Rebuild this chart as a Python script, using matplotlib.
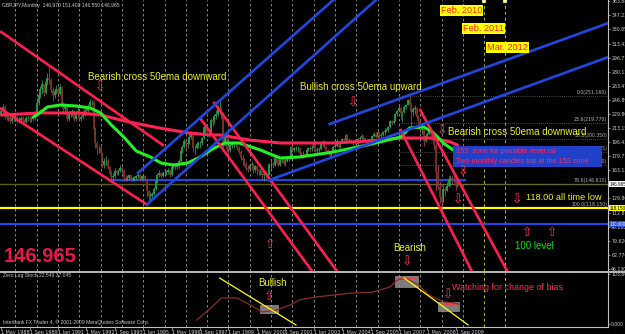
import matplotlib
matplotlib.use("Agg")
import numpy as np
import matplotlib.pyplot as plt
from matplotlib.patches import Rectangle
from matplotlib.lines import Line2D

W, H = 625, 334

# ---- GBPJPY monthly bars (May 1988 .. Nov 2009) ----
FIRST_BAR = "1988-05"
FIRST_OPEN = 230.0
closes = [
    233, 238, 226, 228, 226, 221, 225, 226,                          # 1988
    226, 221, 223, 225, 222, 220, 225, 225, 224, 224, 225, 231,      # 1989
    243, 252, 259, 265, 255, 268, 272, 270, 258, 252, 257, 260,      # 1990
    254, 262, 242, 236, 240, 224, 230, 230, 233, 224, 230, 234,      # 1991
    224, 226, 230, 235, 234, 239, 244, 244, 212, 196, 189, 189,      # 1992
    184, 169, 174, 174, 167, 159, 155, 156, 162, 160, 162, 166,      # 1993
    163, 154, 153, 154, 157, 152, 154, 154, 156, 158, 153, 156,      # 1994
    156, 153, 139, 133, 133, 135, 141, 150, 158, 160, 156, 160,      # 1995
    160, 161, 163, 157, 167, 170, 167, 168, 174, 186, 191, 198,      # 1996
    194, 196, 203, 206, 190, 190, 194, 195, 195, 201, 214, 215,      # 1997
    208, 208, 223, 220, 227, 230, 236, 237, 231, 195, 203, 188,      # 1998
    187, 193, 194, 194, 195, 190, 185, 178, 175, 171, 166, 165,      # 1999
    170, 171, 163, 168, 163, 162, 162, 157, 159, 158, 158, 171,      # 2000
    171, 170, 178, 176, 170, 175, 175, 172, 174, 177, 177, 191,      # 2001
    187, 189, 189, 189, 182, 182, 183, 181, 187, 189, 188, 189,      # 2002
    197, 186, 187, 188, 194, 197, 191, 186, 184, 180, 185, 191,      # 2003
    192, 198, 191, 196, 200, 199, 205, 200, 199, 197, 197, 197,      # 2004
    194, 200, 202, 204, 201, 198, 198, 200, 200, 204, 206, 203,      # 2005
    208, 204, 205, 208, 210, 211, 214, 222, 219, 222, 230, 233,      # 2006
    237, 231, 232, 238, 241, 247, 242, 232, 236, 237, 226, 222,      # 2007
    211, 212, 198, 204, 206, 211, 206, 198, 193, 161, 143, 131,      # 2008
    125, 141, 139, 145, 152, 154, 152, 151, 144, 146.97, 146.965,    # 2009
]
highs = [
    236, 242, 240, 231, 230, 228, 227, 229,
    229, 228, 226, 228, 227, 224, 228, 229, 228, 227, 228, 233,
    246, 256, 263, 270, 266, 271, 278, 285, 272, 262, 260, 264,
    262, 266, 263, 244, 243, 241, 233, 234, 236, 235, 232, 238,
    236, 229, 233, 237, 238, 242, 248, 247, 246, 214, 198, 193,
    192, 185, 178, 180, 176, 168, 162, 160, 166, 164, 165, 169,
    168, 164, 157, 157, 159, 158, 156, 156, 158, 160, 159, 158,
    159, 157, 154, 140, 137, 137, 143, 152, 160, 163, 161, 162,
    163, 164, 166, 164, 168, 172, 171, 170, 176, 188, 193, 200,
    200, 200, 206, 210, 207, 193, 197, 198, 198, 203, 216, 219,
    216, 211, 225, 226, 230, 235, 240, 245, 239, 232, 208, 205,
    191, 196, 198, 197, 198, 197, 192, 187, 181, 178, 173, 169,
    172, 174, 172, 170, 169, 165, 165, 163, 162, 161, 160, 172,
    175, 173, 180, 180, 177, 177, 178, 176, 176, 179, 180, 192,
    193, 191, 192, 192, 190, 185, 186, 184, 189, 191, 192, 193,
    199, 198, 191, 191, 196, 199, 198, 192, 188, 185, 187, 192,
    196, 200, 199, 198, 202, 202, 206, 206, 202, 200, 199, 200,
    198, 201, 204, 206, 205, 202, 200, 202, 202, 205, 209, 208,
    210, 209, 207, 210, 213, 213, 216, 223, 223, 224, 231, 235,
    240, 238, 234, 240, 242, 248, 251, 243, 238, 241, 238, 229,
    224, 215, 213, 206, 208, 215, 213, 207, 201, 195, 170, 150,
    135, 146, 144, 149, 156, 158, 157, 158, 151, 150, 151.4,
]
lows = [
    228, 231, 224, 223, 222, 219, 219, 222,
    222, 219, 219, 221, 218, 216, 219, 221, 220, 220, 221, 223,
    229, 241, 249, 255, 251, 253, 264, 265, 255, 245, 249, 253,
    250, 252, 239, 232, 234, 221, 222, 226, 227, 221, 222, 228,
    221, 221, 224, 228, 230, 232, 238, 240, 205, 190, 183, 184,
    180, 166, 166, 170, 165, 156, 152, 150, 154, 157, 158, 161,
    160, 151, 150, 150, 152, 150, 150, 151, 152, 154, 151, 152,
    152, 151, 131, 123, 128, 130, 134, 140, 148, 155, 154, 155,
    156, 158, 159, 155, 156, 165, 163, 165, 166, 173, 184, 189,
    188, 190, 194, 200, 185, 183, 188, 190, 190, 193, 200, 205,
    203, 203, 206, 216, 218, 224, 228, 230, 224, 190, 192, 185,
    181, 185, 189, 190, 191, 187, 182, 175, 170, 168, 163, 161,
    163, 166, 160, 161, 158, 157, 158, 153, 150, 154, 154, 157,
    165, 166, 168, 172, 168, 168, 172, 169, 168, 173, 174, 176,
    185, 185, 186, 185, 180, 178, 178, 179, 180, 186, 185, 186,
    188, 185, 183, 185, 187, 192, 189, 184, 182, 178, 180, 184,
    189, 191, 189, 189, 195, 196, 198, 197, 196, 195, 193, 194,
    192, 193, 198, 200, 199, 196, 194, 196, 198, 199, 203, 202,
    202, 202, 202, 204, 205, 208, 209, 213, 217, 218, 221, 228,
    232, 224, 220, 231, 236, 241, 240, 212, 228, 230, 224, 218,
    207, 206, 192, 197, 201, 205, 204, 195, 187, 139, 141, 124,
    119, 125, 133, 138, 143, 145, 147, 148, 140, 143, 146.55,
]

# moving averages
green_ma_dates = ["1989-11", "1990-01", "1990-07", "1991-02", "1991-11", "1992-07", "1993-01",
                  "1993-07", "1994-02", "1994-09", "1995-05", "1995-11", "1996-06", "1997-02",
                  "1997-09", "1998-04", "1998-11", "1999-07", "2000-07", "2001-06", "2002-05",
                  "2003-12", "2005-07", "2007-02", "2007-07", "2008-03", "2008-08", "2009-02",
                  "2009-10"]
green_ma = [226.3, 228.7, 238.2, 240.5, 239.4, 237.0, 231.1, 216.8, 202.6, 186.0, 178.9, 171.8,
            169.4, 171.8, 178.9, 188.4, 195.5, 195.5, 187.2, 177.7, 178.9, 184.8, 193.1, 202.6,
            213.3, 214.5, 208.5, 195.5, 183.6]
red_ma_dates = ["1988-05", "1990-03", "1992-01", "1993-01", "1994-05", "1995-10", "1997-03",
                "1998-03", "1998-08", "2000-01", "2001-06", "2003-12", "2005-09", "2007-02",
                "2008-08", "2009-06", "2009-10"]
red_ma = [228.7, 231.1, 231.1, 228.7, 220.4, 213.3, 207.3, 205.0, 205.0, 199.0, 195.5, 195.5,
          197.9, 201.4, 201.4, 196.7, 193.1]

# drawn trend lines: (start date, start price), (end date, end price)
red_lines = [
    (("1988-05", 327.1), ("1995-12", 193.1)),
    (("1988-04", 237.0), ("1995-03", 122.5)),
    (("1997-09", 225.0), ("2002-12", 43.8)),
    (("1998-05", 242.9), ("2004-02", 43.8)),
    (("2007-02", 210.9), ("2010-06", 43.8)),
    (("2008-01", 234.6), ("2012-02", 43.8)),
]
blue_lines = [
    (("1994-10", 160.0), ("2003-12", 365.0)),
    (("1995-03", 122.5), ("2005-12", 365.0)),
    (("2000-12", 151.6), ("2016-11", 297.4)),
    (("2003-10", 218.0), ("2016-11", 337.7)),
]
zone_153 = (("1993-06", 152.0), ("2010-02", 152.0))
all_time_low = 118.0
level_100 = 100.0

fib_names = ["0.0", "23.6", "38.2", "50.0", "61.8", "78.6", "100.0"]
fib_prices = [251.160, 219.770, 200.350, 184.655, 168.960, 146.610, 118.150]

price_ticks = [363.880, 347.230, 330.850, 313.430, 296.770, 280.120, 263.470, 246.890,
               229.800, 213.150, 196.430, 179.770, 163.130, 129.800, 112.810, 96.160,
               79.620, 62.770, 46.130]
date_labels = ["1988-05", "1989-09", "1991-01", "1992-05", "1993-09", "1995-01", "1996-05",
               "1997-09", "1999-01", "2000-05", "2001-09", "2003-01", "2004-05", "2005-09",
               "2007-01", "2008-05", "2009-09"]

# Zero Lag Stoch sub-window
stoch_dates = ["1997-07", "1998-03", "1998-09", "1999-06", "2000-01", "2000-08", "2001-04",
               "2001-12", "2002-05", "2003-02", "2003-12", "2004-09", "2005-10", "2006-08",
               "2006-12", "2007-04", "2007-07", "2007-12", "2008-06", "2009-02", "2009-07",
               "2009-11"]
stoch_vals = [8, 33, 54, 54, 40, 25, 29, 40, 50, 56, 60, 64, 66, 77, 91, 95, 91, 81, 60, 46, 44, 41]
stoch_boxes = [(("2000-07", "2001-05"), (22.8, 39.5)),
               (("2006-11", "2007-12"), (76.8, 99.7)),
               (("2008-11", "2009-11"), (27.0, 45.7))]
stoch_lines = [(("1998-08", 95.5), ("2002-03", -2.0)),
               (("2007-04", 95.5), ("2010-04", -2.0))]
STOCH_MAX = 103.862

MONTHS = ["Jan", "Feb", "Mar", "Apr", "May", "Jun", "Jul", "Aug", "Sep", "Oct", "Nov", "Dec"]


def mon(s):
    y, m = map(int, s.split("-"))
    return (y - 1988) * 12 + (m - 5)


def ftext(x, y, s, **kw):
    kw.setdefault("ha", "left")
    kw.setdefault("va", "center")
    kw.setdefault("family", ["Liberation Sans", "DejaVu Sans"])
    return fig.text(x / W, 1 - y / H, s, **kw)


RED = "#ff1e50"
BLUE = "#2048e0"
ARROW = "#ff3060"

fig = plt.figure(figsize=(W / 100, H / 100), dpi=100, facecolor="black")

ax = fig.add_axes([0, 1 - 271 / H, 608 / W, 271 / H], facecolor="black")
ax2 = fig.add_axes([0, 1 - 326.5 / H, 608 / W, 53.5 / H], facecolor="black")
XMIN, XMAX = -0.73, 341.8
for a in (ax, ax2):
    a.set_xlim(XMIN, XMAX)
    for sp in ("top", "left", "bottom"):
        a.spines[sp].set_visible(False)
    a.spines["right"].set_color("#c0c0c0")
    a.spines["right"].set_linewidth(0.8)
    a.yaxis.tick_right()
    a.tick_params(axis="y", length=1.5, width=0.5, color="#c0c0c0", labelsize=3.3,
                  labelcolor="#d0d0d0", pad=0.8)
ax.set_ylim(43.76, 365.0)
ax2.set_ylim(-5.2, 105.9)

# yearly grid
for yr in range(1989, 2011):
    for a in (ax, ax2):
        a.axvline(mon(f"{yr}-01"), color="#9a9a9a", lw=0.6, ls=(0, (3, 3)), zorder=1)
for yr in (2011, 2012):
    for a in (ax, ax2):
        a.axvline(mon(f"{yr}-01"), color="#b4b43c", lw=0.7, ls=(0, (3, 3)), zorder=1)
    ax.plot(mon(f"{yr}-01"), 364, "s", ms=2.2, color="#ffffa0", mec="#606020", mew=0.3, zorder=6)

# horizontal levels
ax.axhline(fib_prices[5], color="#5c5c1c", lw=1.0, zorder=2)
ax.axhline(all_time_low, color="#ffff00", lw=1.6, zorder=3)
ax.axhline(level_100, color=BLUE, lw=1.6, zorder=3)
(z0, p0), (z1, p1) = zone_153
ax.plot([mon(z0), mon(z1)], [p0, p1], color=BLUE, lw=1.6, zorder=3)

# fibonacci levels
fib_start = mon("2007-01")
for name, p in zip(fib_names, fib_prices):
    ax.plot([fib_start, XMAX], [p, p], color="#8c8c8c", lw=0.5, ls=(0, (1, 2)), zorder=2)
    ax.text(XMAX - 0.5, p + 1.2, f"{name}({p:.3f})", color="#b8b8b8", fontsize=3.3,
            ha="right", va="bottom", zorder=1.5)

# candles
close_arr = np.array(closes, dtype=float)
open_arr = np.r_[FIRST_OPEN, close_arr[:-1]]
high_arr = np.array(highs, dtype=float)
low_arr = np.array(lows, dtype=float)
xs = mon(FIRST_BAR) + np.arange(len(close_arr))
up = close_arr >= open_arr
ax.vlines(xs[up], low_arr[up], high_arr[up], color="#3cb060", lw=0.5, zorder=4)
ax.vlines(xs[~up], low_arr[~up], high_arr[~up], color="#c04a6a", lw=0.5, zorder=4)
ax.vlines(xs[up], open_arr[up], close_arr[up], color="#22a04a", lw=1.3, zorder=4)
ax.vlines(xs[~up], close_arr[~up], open_arr[~up], color="#7a3418", lw=1.3, zorder=4)

# moving averages
ax.plot([mon(d) for d in red_ma_dates], red_ma, color="#ff2255", lw=2.2, zorder=5,
        solid_capstyle="round")
ax.plot([mon(d) for d in green_ma_dates], green_ma, color="#22f022", lw=2.2, zorder=5,
        solid_capstyle="round")

# trend lines
for (d0, q0), (d1, q1) in red_lines:
    ax.plot([mon(d0), mon(d1)], [q0, q1], color=RED, lw=1.9, zorder=6)
for (d0, q0), (d1, q1) in blue_lines:
    ax.plot([mon(d0), mon(d1)], [q0, q1], color=BLUE, lw=1.9, zorder=6)

# price scale
ax.set_yticks(price_ticks)
ax.set_yticklabels([f"{v:.3f}" for v in price_ticks])
ax.set_xticks([])

# indicator window
ax2.plot([mon(d) for d in stoch_dates], stoch_vals, color="#8c2a2a", lw=0.9, zorder=4)
for (d0, d1), (v0, v1) in stoch_boxes:
    ax2.add_patch(Rectangle((mon(d0), v0), mon(d1) - mon(d0), v1 - v0, facecolor="#8a8a8a",
                            edgecolor="#b0b0b0", lw=0.4, alpha=0.9, zorder=3))
    ax2.plot([mon(d0) + 1, mon(d1) - 1], [v1 - 4, v1 - 6], color="#ff3040", lw=0.6, zorder=4)
for (d0, q0), (d1, q1) in stoch_lines:
    ax2.plot([mon(d0), mon(d1)], [q0, q1], color="#ffff00", lw=0.9, zorder=5)
ax2.set_yticks([0, STOCH_MAX])
ax2.set_yticklabels(["0.000", f"{STOCH_MAX:.3f}"])
ax2.spines["bottom"].set_visible(True)
ax2.spines["bottom"].set_color("#c0c0c0")
ax2.spines["bottom"].set_linewidth(0.8)
ax2.set_xticks([mon(d) for d in date_labels])
ax2.set_xticklabels([f"1 {MONTHS[int(d[5:]) - 1]} {d[:4]}" for d in date_labels])
ax2.tick_params(axis="x", length=2, width=0.5, color="#c0c0c0", labelsize=3.5,
                labelcolor="#d0d0d0", pad=0.5)
for lbl in ax2.get_xticklabels():
    lbl.set_ha("left")

# separator between windows
fig.add_artist(Line2D([0, 1], [1 - 271.8 / H] * 2, color="#b8b8b8", lw=1.4))

# header texts
ftext(2, 6, "GBPJPY,Monthly  146.970 151.400 146.550 146.965", color="#c8c8c8", fontsize=3.6)
ftext(3, 276, "Zero Lag Stoch 22.549 37.045", color="#c8c8c8", fontsize=3.6)
ftext(3, 322, "Interbank FX Trader 4, \u00a9 2001-2009 MetaQuotes Software Corp.",
      color="#c8c8c8", fontsize=3.6)

# annotations
YEL = "#f0f020"
ftext(88, 77, "Bearish cross 50ema downward", color=YEL, fontsize=7)
ftext(300, 87, "Bullish cross 50ema upward", color=YEL, fontsize=7)
ftext(448, 132, "Bearish cross 50ema downward", color=YEL, fontsize=7)
ftext(526, 198, "118.00 all time low", color=YEL, fontsize=6.6)
ftext(515, 246, "100 level", color="#10e010", fontsize=7)
ftext(393, 248, "Bearish", color=YEL, fontsize=7)
ftext(258, 283, "Bullish", color=YEL, fontsize=7)
ftext(452, 288, "Watching for change of bias", color="#ff2a5a", fontsize=6.4)
ftext(4, 257, "146.965", color="#e8164c", fontsize=14.5, weight="bold")

fig.add_artist(Rectangle((453 / W, 1 - 167 / H), 149 / W, 21 / H, transform=fig.transFigure,
                         facecolor="#2040c8", edgecolor="none", zorder=2))
ftext(456, 151.5, "153  zone for possible reversal", color="#ff2a60", fontsize=5.3, zorder=3)
ftext(456, 161.5, "Two monthly candles top at the 153 zone", color="#ff2a60", fontsize=5.3,
      zorder=3)

for x, y, s in [(441, 10.5, "Feb. 2010"), (463, 28.5, "Feb. 2011"), (487, 47.5, "Mar. 2012")]:
    ftext(x, y, s, color="#ff2020", fontsize=6.6,
          bbox=dict(boxstyle="square,pad=0.12", facecolor="#ffff00", edgecolor="none"))

# arrows
for x, y, s in [(100, 87, "\u21e9"), (353, 103, "\u21e9"), (442, 131, "\u21e9"),
                (463, 172, "\u21e9"), (458, 200, "\u21e9"), (517, 200, "\u21e9"),
                (527, 233, "\u21e7"), (552, 233, "\u21e7"), (270, 245, "\u21e7"),
                (407, 262, "\u21e9"), (269, 297, "\u21e7"), (448, 295, "\u21e9")]:
    ftext(x, y, s, color=ARROW, fontsize=9, ha="center", family="DejaVu Sans", zorder=4)

# highlighted labels on the price scale
for y, s, fc, tc in [(184, "146.965", "#ffffff", "#000000"), (208, "118.150", "#ffff00", "#000000"),
                     (224, "100.000", BLUE, "#ffffff")]:
    ftext(609.5, y, s, color=tc, fontsize=3.3,
          bbox=dict(boxstyle="square,pad=0.15", facecolor=fc, edgecolor="none"))

fig.savefig("out.png", dpi=100, facecolor="black")
